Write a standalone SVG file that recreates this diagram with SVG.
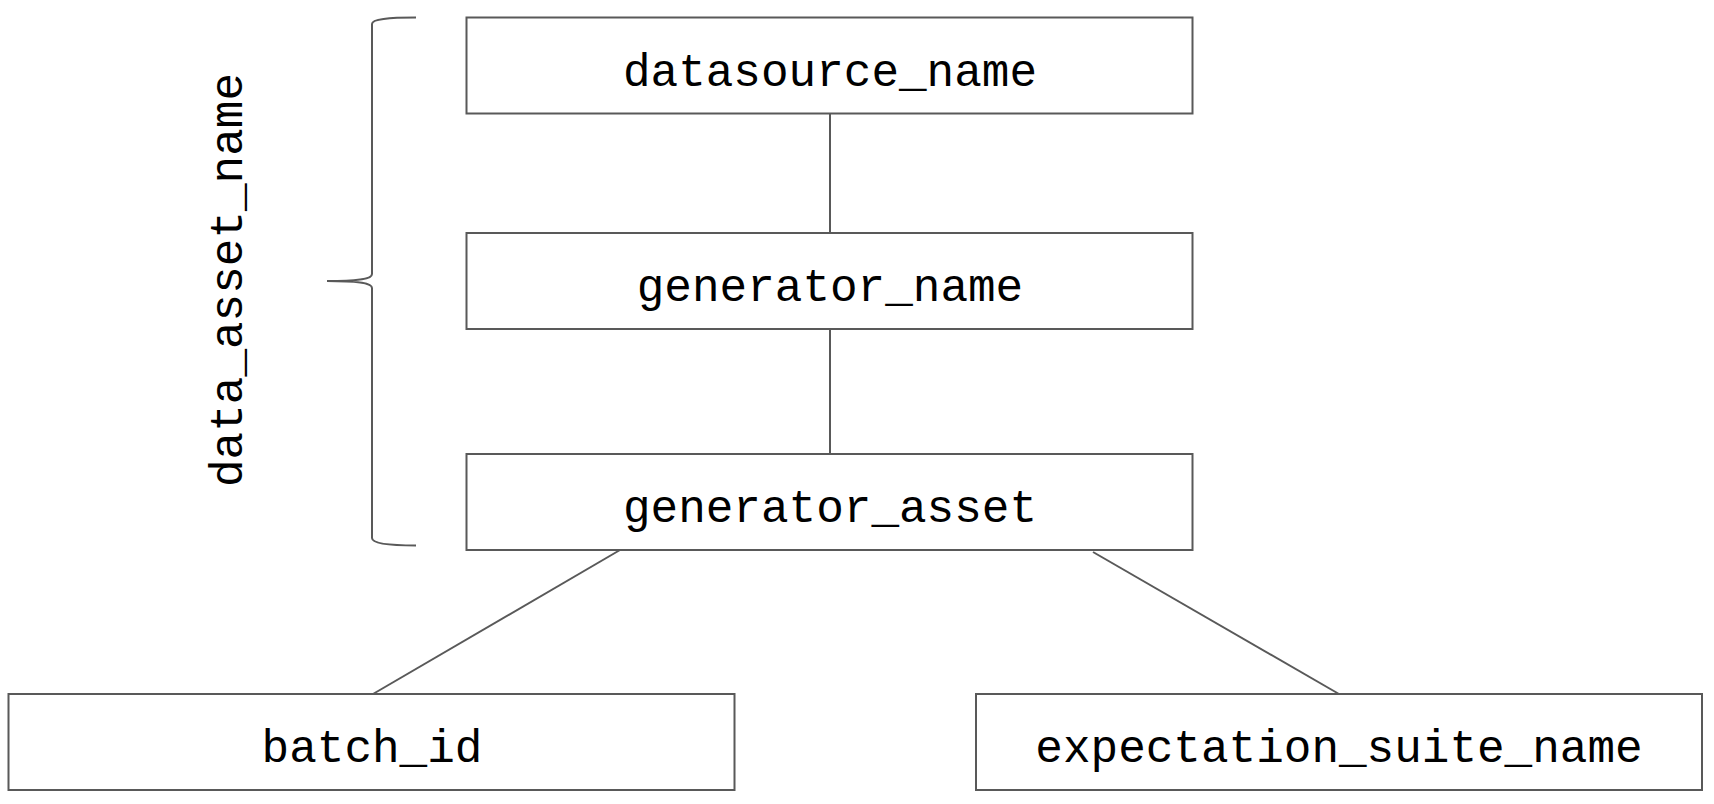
<svg xmlns="http://www.w3.org/2000/svg" width="1714" height="804" viewBox="0 0 1714 804">
<style>
.box{fill:#ffffff;stroke:#595959;stroke-width:2}
.ln{fill:none;stroke:#595959;stroke-width:2}
.t{font-family:"Liberation Mono","Courier New",monospace;font-size:46px;fill:#000000;text-anchor:middle}
</style>
<rect width="1714" height="804" fill="#ffffff"/>
<g id="connectors">
<line class="ln" x1="830" y1="114" x2="830" y2="233"/>
<line class="ln" x1="830" y1="329" x2="830" y2="454"/>
<line class="ln" x1="620" y1="550" x2="373" y2="694"/>
<line class="ln" x1="1093" y1="552" x2="1339" y2="694"/>
</g>
<g id="brace">
<path class="ln" d="M416,17.5 C388,17.5 372,19 372,24 L372,274 C372,279 360,281 327,281 C360,281 372,283 372,288 L372,538 C372,543 388,545.5 416,545.5"/>
<text class="t" transform="translate(242,280) rotate(-90)">data_asset_name</text>
</g>
<g id="node-datasource">
<rect class="box" x="466.5" y="17.5" width="726" height="96"/>
<text class="t" x="830" y="86">datasource_name</text>
</g>
<g id="node-generator">
<rect class="box" x="466.5" y="233" width="726" height="96"/>
<text class="t" x="830" y="301">generator_name</text>
</g>
<g id="node-asset">
<rect class="box" x="466.5" y="454" width="726" height="96"/>
<text class="t" x="830" y="522">generator_asset</text>
</g>
<g id="node-batch">
<rect class="box" x="8.5" y="694" width="726" height="96"/>
<text class="t" x="372" y="762">batch_id</text>
</g>
<g id="node-suite">
<rect class="box" x="976" y="694" width="726" height="96"/>
<text class="t" x="1339" y="762">expectation_suite_name</text>
</g>
</svg>
